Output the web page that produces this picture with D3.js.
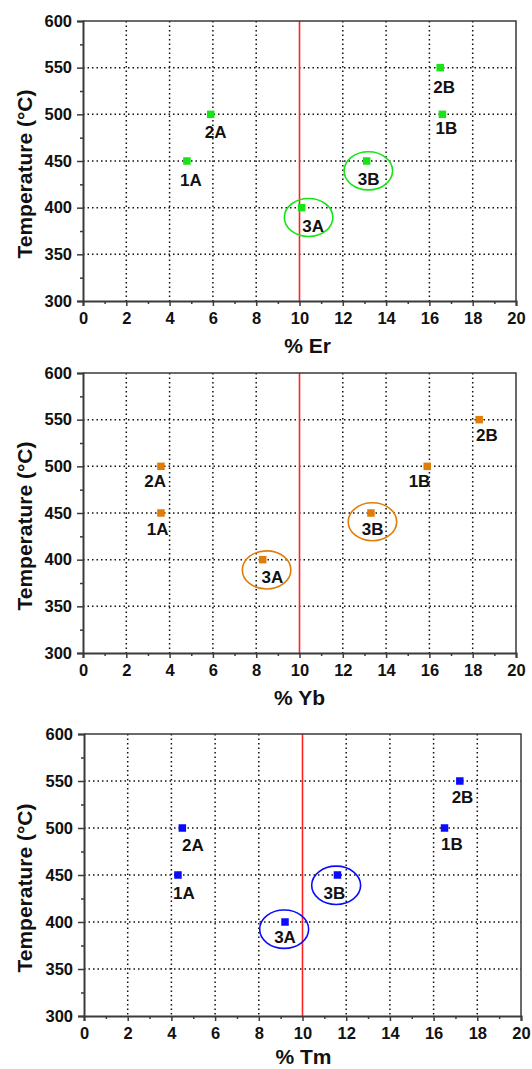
<!DOCTYPE html>
<html>
<head>
<meta charset="utf-8">
<script src="https://cdn.jsdelivr.net/npm/d3@7"></script>
<style>
  body { margin: 0; background: #fff; }
  svg { display: block; }
  text { font-family: "Liberation Sans", Arial, sans-serif; font-weight: bold; fill: #111; }
</style>
</head>
<body>
<svg id="chart" width="532" height="1069"></svg>
<script>
// Sample names and synthesis temperatures (°C)
const sampleNames = ["1A", "2A", "3A", "1B", "2B", "3B"];
const temperatures = [450, 500, 400, 500, 550, 450];

// Dopant content (%) of each sample
const erPercent = [4.8, 5.9, 10.1, 16.6, 16.5, 13.1];
const ybPercent = [3.6, 3.6, 8.3, 15.9, 18.3, 13.3];
const tmPercent = [4.3, 4.5, 9.2, 16.5, 17.2, 11.6];

// Axis ticks
const xTicks = [0, 2, 4, 6, 8, 10, 12, 14, 16, 18, 20];
const xMinorTicks = [1, 3, 5, 7, 9, 11, 13, 15, 17, 19];
const yTicks = [300, 350, 400, 450, 500, 550, 600];
const yMinorTicks = [325, 375, 425, 475, 525, 575];
const xGrid = [2, 4, 6, 8, 12, 14, 16, 18];
const yGrid = [350, 400, 450, 500, 550];

// Nominal dopant level marked by the red line
const nominalPercent = 10;

// Rings drawn around samples 3A and 3B: centre (% , °C)
const ringedSamples = ["3A", "3B"];
const erRings = [[10.42, 389.5], [13.18, 439.5]];
const ybRings = [[8.48, 389.0], [13.37, 440.6]];
const tmRings = [[9.16, 392.3], [11.54, 439.0]];
const ringRadius = [1.12, 20.4]; // (% , °C)

// Label placement relative to each marker, in pixels [dx, dy]
const erLabelNudge = [[4, 19], [5, 18], [11.5, 18], [4, 14], [4, 19], [2, 18]];
const ybLabelNudge = [[-3.4, 16], [-5.7, 15], [9.7, 17], [-7.7, 14.5], [7.7, 15], [1.7, 16]];
const tmLabelNudge = [[6, 18], [10.6, 17], [0, 15], [7.4, 16], [2.7, 16], [-3, 18]];

const panels = [
  { title: "% Er", values: erPercent, rings: erRings, nudge: erLabelNudge, color: "#16e416",
    left: 83, right: 516, top: 21, bottom: 301, titleShift: 8, titleGap: 52 },
  { title: "% Yb", values: ybPercent, rings: ybRings, nudge: ybLabelNudge, color: "#df7d08",
    left: 83, right: 516, top: 373, bottom: 653, titleShift: 0, titleGap: 52 },
  { title: "% Tm", values: tmPercent, rings: tmRings, nudge: tmLabelNudge, color: "#0a0aff",
    left: 84, right: 521, top: 734, bottom: 1016, titleShift: 1, titleGap: 48 }
];

const svg = d3.select("#chart");
svg.append("rect").attr("width", 532).attr("height", 1069).attr("fill", "#fff");

panels.forEach(p => {
  const x = d3.scaleLinear().domain([0, 20]).range([p.left, p.right]);
  const y = d3.scaleLinear().domain([300, 600]).range([p.bottom, p.top]);
  const g = svg.append("g");

  // dotted grid
  g.selectAll(null).data(xGrid).join("line")
    .attr("x1", d => x(d)).attr("x2", d => x(d))
    .attr("y1", p.top).attr("y2", p.bottom)
    .attr("stroke", "#111").attr("stroke-width", 1.5).attr("stroke-dasharray", "1.5,3");
  g.selectAll(null).data(yGrid).join("line")
    .attr("y1", d => y(d)).attr("y2", d => y(d))
    .attr("x1", p.left).attr("x2", p.right)
    .attr("stroke", "#111").attr("stroke-width", 1.5).attr("stroke-dasharray", "1.5,3");

  // nominal-content line
  g.append("line")
    .attr("x1", x(nominalPercent)).attr("x2", x(nominalPercent))
    .attr("y1", p.top).attr("y2", p.bottom)
    .attr("stroke", "#ff2424").attr("stroke-width", 1.6);

  // rings around the 3A / 3B samples
  g.selectAll(null).data(p.rings).join("ellipse")
    .attr("cx", d => x(d[0])).attr("cy", d => y(d[1]))
    .attr("rx", x(ringRadius[0]) - x(0))
    .attr("ry", y(300) - y(300 + ringRadius[1]))
    .attr("fill", "none").attr("stroke", p.color).attr("stroke-width", 1.6);

  // square markers
  const pts = sampleNames.map((n, i) => ({ name: n, v: p.values[i], t: temperatures[i], nudge: p.nudge[i] }));
  const s = 7.5;
  g.selectAll(null).data(pts).join("rect")
    .attr("x", d => x(d.v) - s / 2).attr("y", d => y(d.t) - s / 2)
    .attr("width", s).attr("height", s)
    .attr("fill", p.color);

  // sample labels
  g.selectAll(null).data(pts).join("text")
    .attr("x", d => x(d.v) + d.nudge[0])
    .attr("y", d => y(d.t) + d.nudge[1])
    .attr("dy", "0.36em")
    .attr("text-anchor", "middle")
    .attr("font-size", 17)
    .text(d => d.name);

  // frame: top and right edges
  g.append("path")
    .attr("d", `M${p.left},${p.top}H${p.right}V${p.bottom}`)
    .attr("fill", "none").attr("stroke", "#3a3a3a").attr("stroke-width", 1.5);

  // left axis
  const yAxis = g.append("g").attr("transform", `translate(${p.left},0)`)
    .call(d3.axisLeft(y).tickValues(yTicks).tickSize(6).tickPadding(5));
  g.append("g").attr("transform", `translate(${p.left},0)`)
    .call(d3.axisLeft(y).tickValues(yMinorTicks).tickSize(3).tickFormat(""))
    .call(a => a.select(".domain").remove());
  yAxis.selectAll("text").attr("font-size", 16.5).attr("fill", "#111")
    .attr("font-family", "'Liberation Sans', Arial, sans-serif").attr("font-weight", "bold");

  // bottom axis
  const xAxis = g.append("g").attr("transform", `translate(0,${p.bottom})`)
    .call(d3.axisBottom(x).tickValues(xTicks).tickSize(5).tickPadding(6));
  g.append("g").attr("transform", `translate(0,${p.bottom})`)
    .call(d3.axisBottom(x).tickValues(xMinorTicks).tickSize(3).tickFormat(""))
    .call(a => a.select(".domain").remove());
  xAxis.selectAll("text").attr("font-size", 16.5).attr("fill", "#111")
    .attr("font-family", "'Liberation Sans', Arial, sans-serif").attr("font-weight", "bold");

  g.selectAll(".domain").attr("stroke", "#3a3a3a").attr("stroke-width", 2);
  g.selectAll(".tick line").attr("stroke", "#3a3a3a").attr("stroke-width", 1.5);

  // axis titles
  g.append("text")
    .attr("x", (p.left + p.right) / 2 + p.titleShift)
    .attr("y", p.bottom + p.titleGap)
    .attr("text-anchor", "middle")
    .attr("font-size", 21)
    .text(p.title);
  g.append("text")
    .attr("transform", `translate(32,${(p.top + p.bottom) / 2 + 13}) rotate(-90)`)
    .attr("text-anchor", "middle")
    .attr("font-size", 21)
    .text("Temperature (°C)");
});
</script>
</body>
</html>
